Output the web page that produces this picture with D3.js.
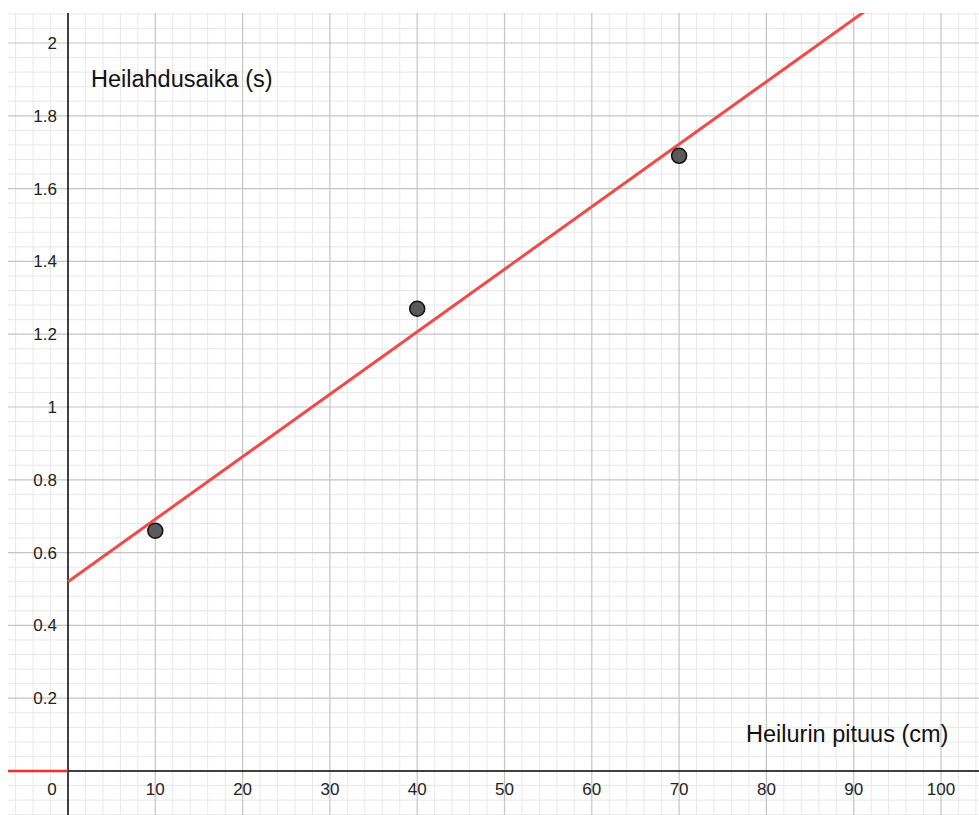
<!DOCTYPE html>
<html><head><meta charset="utf-8">
<script src="https://cdn.jsdelivr.net/npm/d3@7"></script>
<style>body{margin:0;background:#fff}svg{display:block}</style>
</head><body>
<script>
const lengths = [10, 40, 70];
const periods = [0.66, 1.27, 1.69];
const xTicks = [0,10,20,30,40,50,60,70,80,90,100];
const yTicks = [0.2,0.4,0.6,0.8,1,1.2,1.4,1.6,1.8,2];
const slope = 0.01717, intercept = 0.52;
const xTitle = "Heilurin pituus (cm)";
const yTitle = "Heilahdusaika (s)";

const W = 979, H = 815;
const x = d3.scaleLinear().domain([0, 100]).range([68, 941]);
const y = d3.scaleLinear().domain([0, 2]).range([771, 43]);
const x0 = x.invert(8), x1 = x.invert(W), yTop = y.invert(13), yBot = y.invert(H);

const svg = d3.select("body").append("svg").attr("width", W).attr("height", H);
svg.append("defs").append("clipPath").attr("id","c").append("rect")
  .attr("x",8).attr("y",13).attr("width",W-8).attr("height",H-13);
const g = svg.append("g").attr("clip-path","url(#c)");

// minor grid
const minorX = d3.range(Math.ceil(x0/2)*2, x1, 2).filter(v => v % 10 !== 0);
const minorY = d3.range(Math.ceil(yBot/0.04)*0.04, yTop, 0.04).filter(v => Math.abs(v/0.2 - Math.round(v/0.2)) > 1e-6);
g.selectAll(".mx").data(minorX).join("line").attr("x1",d=>x(d)).attr("x2",d=>x(d)).attr("y1",13).attr("y2",H).attr("stroke","#e8e8e8").attr("stroke-width",1);
g.selectAll(".my").data(minorY).join("line").attr("y1",d=>y(d)).attr("y2",d=>y(d)).attr("x1",8).attr("x2",W).attr("stroke","#e8e8e8").attr("stroke-width",1);
// major grid
const majorX = d3.range(-0, x1, 10).concat([-10]).filter(v=>v!==0);
const majorY = d3.range(-0.2, yTop, 0.2).filter(v=>Math.abs(v)>1e-6);
g.selectAll(".Mx").data(majorX).join("line").attr("x1",d=>x(d)).attr("x2",d=>x(d)).attr("y1",13).attr("y2",H).attr("stroke","#c4c4c4").attr("stroke-width",1.2);
g.selectAll(".My").data(majorY).join("line").attr("y1",d=>y(d)).attr("y2",d=>y(d)).attr("x1",8).attr("x2",W).attr("stroke","#c4c4c4").attr("stroke-width",1.2);

// axes
g.append("line").attr("x1",x(0)).attr("x2",W).attr("y1",y(0)).attr("y2",y(0)).attr("stroke","#000").attr("stroke-width",1.5);
g.append("line").attr("x1",x(0)).attr("x2",x(0)).attr("y1",13).attr("y2",H).attr("stroke","#000").attr("stroke-width",1.5);
// red segment for x<0
g.append("line").attr("x1",8).attr("x2",x(0)).attr("y1",y(0)).attr("y2",y(0)).attr("stroke","#e8302f").attr("stroke-width",2.5);

// tick labels
const font = "'Liberation Sans', Arial, sans-serif";
svg.selectAll(".xl").data(xTicks).join("text")
  .attr("x",d=> d===0 ? x(0)-16 : x(d)).attr("y",y(0)+24)
  .attr("text-anchor","middle").attr("font-family",font).attr("font-size",17).attr("fill","#222")
  .text(d=>d);
svg.selectAll(".yl").data(yTicks).join("text")
  .attr("x",x(0)-11).attr("y",d=>y(d)+6)
  .attr("text-anchor","end").attr("font-family",font).attr("font-size",17).attr("fill","#222")
  .text(d=>d3.format("")(+d.toFixed(1)));

// regression line (x >= 0)
g.append("line")
  .attr("x1",x(0)).attr("y1",y(intercept))
  .attr("x2",x(x1)).attr("y2",y(intercept+slope*x1))
  .attr("stroke","#f04a4a").attr("stroke-width",3);

// points
g.selectAll(".pt").data(lengths.map((l,i)=>[l,periods[i]])).join("circle")
  .attr("cx",d=>x(d[0])).attr("cy",d=>y(d[1])).attr("r",7.5)
  .attr("fill","#5a5a5a").attr("stroke","#111").attr("stroke-width",1.5);

// titles
svg.append("text").attr("x",91).attr("y",87).attr("font-family",font).attr("font-size",23.5).attr("fill","#111").text(yTitle);
svg.append("text").attr("x",746).attr("y",742).attr("font-family",font).attr("font-size",23.5).attr("fill","#111").text(xTitle);
</script>
</body></html>
